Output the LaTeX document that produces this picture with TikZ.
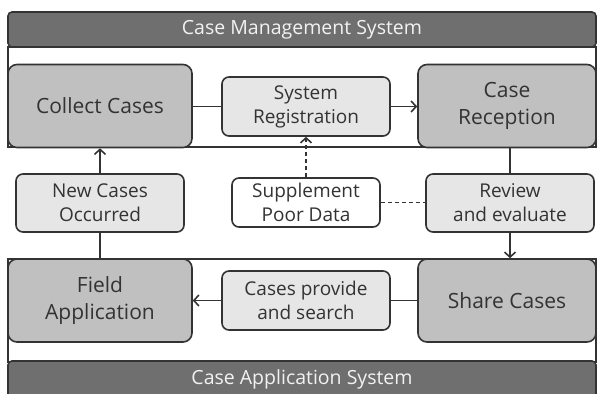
\documentclass[tikz,border=0pt]{standalone}
\usepackage{fontspec}
\setmainfont{Open Sans}
\usetikzlibrary{arrows.meta,calc}
\definecolor{bardark}{HTML}{6F6F6F}
\definecolor{bigfill}{HTML}{C0C0C0}
\definecolor{smallfill}{HTML}{E6E6E6}
\definecolor{ink}{HTML}{333333}
\definecolor{bartext}{HTML}{F2F2F2}
\tikzset{
  bigbox/.style={draw=ink, line width=1.6pt, fill=bigfill, rounded corners=9pt, align=center, text=ink, font=\fontsize{21}{27}\selectfont, inner sep=0pt},
  smallbox/.style={draw=ink, line width=1.6pt, fill=smallfill, rounded corners=7pt, align=center, text=ink, font=\fontsize{19}{24}\selectfont, inner sep=0pt},
  whitebox/.style={smallbox, fill=white},
  barbox/.style={draw=ink, line width=1.6pt, fill=bardark, rounded corners=4pt, text=bartext, font=\fontsize{19.5}{22}\selectfont, inner sep=0pt},
  frameline/.style={draw=ink, line width=1.6pt},
  conn/.style={draw=ink, line width=1.6pt},
  arr/.style={conn, -{Straight Barb[length=5pt,width=11pt,line width=1.6pt]}},
}
\begin{document}
\begin{tikzpicture}[x=1pt,y=-1pt]
\useasboundingbox (0,0) rectangle (598,394);
\clip (0,0) rectangle (598,394);
% frames
\draw[frameline] (8,47) rectangle (596,147);
\draw[frameline] (8,259) rectangle (596,362);
% bars
\node[barbox, minimum width=588pt, minimum height=35pt] (topbar) at (302,29.5) {Case Management System};
\node[barbox, minimum width=588pt, minimum height=40pt] (botbar) at (302,381) {};
\node[text=bartext, font=\fontsize{19.5}{22}\selectfont, inner sep=0pt] (bottext) at (302,379) {Case Application System};
% big boxes
\node[bigbox, minimum width=184pt, minimum height=83pt] (collect) at (100,106) {Collect Cases};
\node[bigbox, minimum width=178pt, minimum height=83pt] (reception) at (507,106) {Case\\Reception};
\node[bigbox, minimum width=184pt, minimum height=83pt] (field) at (100,300.5) {Field\\Application};
\node[bigbox, minimum width=178pt, minimum height=83pt] (share) at (507,300.5) {Share Cases};
% small boxes
\node[smallbox, minimum width=168pt, minimum height=59pt] (sysreg) at (306,106.5) {System\\Registration};
\node[smallbox, minimum width=168pt, minimum height=58pt] (review) at (510,203) {Review\\and evaluate};
\node[smallbox, minimum width=168pt, minimum height=58pt] (newcases) at (100,203) {New Cases\\Occurred};
\node[whitebox, minimum width=148pt, minimum height=49pt] (supp) at (306,202.5) {Supplement\\Poor Data};
\node[smallbox, minimum width=168pt, minimum height=59pt] (provide) at (306,300.5) {Cases provide\\and search};
% connectors
\draw[conn] (collect.east |- sysreg.west) -- (sysreg.west);
\draw[arr] (sysreg.east) -- (sysreg.east -| reception.west);
\draw[conn] (review.north |- reception.south) -- (review.north);
\draw[arr] (review.south) -- (review.south |- share.north);
\draw[conn] (share.west |- provide.east) -- (provide.east);
\draw[arr] (provide.west) -- (provide.west -| field.east);
\draw[conn] (field.north) -- (newcases.south);
\draw[arr] (newcases.north) -- (collect.south);
\draw[arr, dashed, dash pattern=on 4pt off 3pt] (supp.north) -- (sysreg.south);
\draw[conn, dashed, dash pattern=on 4pt off 3pt] (supp.east) -- (supp.east -| review.west);
\end{tikzpicture}
\end{document}
